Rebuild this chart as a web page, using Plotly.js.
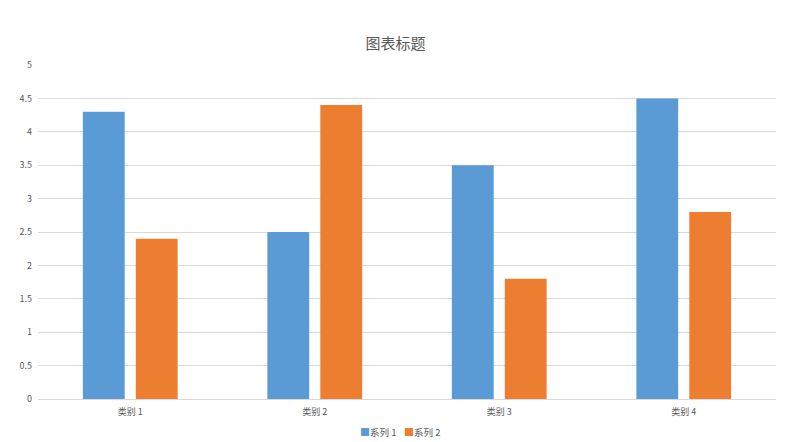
<!DOCTYPE html>
<html>
<head>
<meta charset="utf-8">
<script src="https://cdn.plot.ly/plotly-3.0.1.min.js"></script>
<style>html,body{margin:0;padding:0;background:#fff}#chart{width:791px;height:442px}</style>
</head>
<body>
<div id="chart"></div>
<script>
const categories = ["类别 1", "类别 2", "类别 3", "类别 4"];
const series1 = [4.3, 2.5, 3.5, 4.5];
const series2 = [2.4, 4.4, 1.8, 2.8];
const seriesNames = ["系列 1", "系列 2"];
const seriesColors = ['#5B9BD5', '#ED7D31'];
const yTicks = [0, 0.5, 1, 1.5, 2, 2.5, 3, 3.5, 4, 4.5, 5];

const FONT = '"Noto Sans CJK SC", "Noto Sans", sans-serif';
const data = [
  {type: 'bar', x: categories, y: series1, name: seriesNames[0], marker: {color: seriesColors[0]}, hoverinfo: 'none'},
  {type: 'bar', x: categories, y: series2, name: seriesNames[1], marker: {color: seriesColors[1]}, hoverinfo: 'none'}
];
// compact legend (Excel style): small coloured square right before each name
const legendX = [378, 422];
const legendAnnotations = seriesNames.map((n, i) => ({
  text: '<span style="color:' + seriesColors[i] + ';font-size:10px">■</span>' + n,
  xref: 'paper', yref: 'paper', x: (legendX[i] - 38) / 738, xanchor: 'center',
  y: -(431 - 399) / 334, yanchor: 'middle', showarrow: false, font: {size: 9.5, color: '#595959'}
}));
const layout = {
  width: 791, height: 442,
  margin: {l: 38, r: 15, t: 65, b: 43},
  paper_bgcolor: '#fff', plot_bgcolor: '#fff',
  font: {family: FONT, color: '#595959', size: 9},
  title: {text: '图表标题', x: 0.5, xanchor: 'center', y: 1 - 44/442, yanchor: 'middle', font: {family: FONT, size: 15, color: '#595959'}},
  barmode: 'group', bargap: 0.426, bargroupgap: 0.21,
  showlegend: false,
  xaxis: {type: 'category', showgrid: false, showline: true, linecolor: '#D9D9D9', linewidth: 1, ticks: '', ticklabelstandoff: 4, tickfont: {size: 9, color: '#595959'}, fixedrange: true},
  yaxis: {range: [0, 5], tickvals: yTicks, ticktext: yTicks.map(String), showgrid: true, gridcolor: '#D9D9D9', gridwidth: 1, zeroline: false, showline: false, ticks: '', ticklabelstandoff: 5, tickfont: {size: 9, color: '#595959'}, fixedrange: true},
  annotations: legendAnnotations
};
Plotly.newPlot('chart', data, layout, {displayModeBar: false, staticPlot: true});
</script>
</body>
</html>
